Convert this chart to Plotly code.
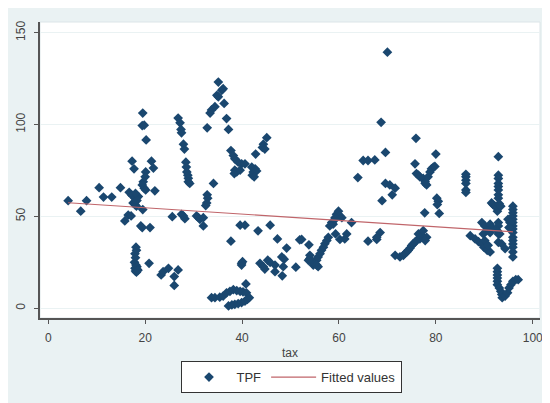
import plotly.graph_objects as go

# ---- data ----
tax = [
    4.1, 6.7, 7.9, 10.5, 11.4, 13.1, 14.9, 15.8,
    16.5, 17.1, 16.7, 17.3, 17.9, 18.6, 17.5, 17.9, 18.2, 19.5, 17.3, 17.7,
    19.5, 19.4, 19.8, 20.2, 21.3, 21.7, 20.1, 20.0, 19.6, 19.4, 19.8, 20.1, 22.0,
    19.1, 19.4, 21.0, 18.1, 18.2, 17.9, 17.8, 18.1, 18.3, 17.9, 18.4, 18.0, 18.2,
    18.5, 20.8, 18.0, 18.3, 18.0,
    23.3, 23.7, 24.8, 26.0, 26.8, 26.0, 25.6,
    26.8, 27.2, 27.4, 27.5, 27.9, 28.1, 28.4, 28.5, 28.6, 28.8, 28.9, 28.9, 29.2,
    27.5, 27.9, 28.2, 30.6, 31.0, 31.3, 32.0, 32.0,
    32.8, 33.4, 33.7, 34.4, 35.1, 36.1, 35.8, 34.8, 35.1, 36.3, 36.8, 37.2,
    34.1, 32.8, 32.9, 32.7, 32.5,
    37.7, 38.2, 38.5, 39.2, 39.9, 40.6, 38.5, 38.9, 38.4, 39.6, 42.0, 42.7, 42.3,
    43.0, 42.1, 42.5, 45.1, 44.4, 44.2, 44.7, 42.8,
    39.6, 40.6, 43.3, 45.8, 37.7, 39.9, 39.9, 40.1,
    43.7, 44.4, 44.7, 45.3, 45.8, 46.8, 48.3,
    47.3, 49.2, 48.2, 48.7, 46.8, 48.5, 51.1, 51.9,
    33.7, 34.4, 35.4, 36.1, 36.8, 37.5, 38.2, 38.9, 39.6, 40.2, 40.9,
    37.2, 37.9, 38.5, 39.2, 39.9, 40.6, 41.1, 41.5, 40.8,
    52.3, 53.8,
    57.8, 57.5, 57.1, 56.8, 56.4, 56.1, 55.7, 55.4, 55.0, 54.7, 54.4, 54.0, 54.0,
    53.7, 55.4, 55.7,
    59.9, 59.5, 60.2, 60.6, 59.2, 58.5, 58.1, 58.8, 59.2, 62.6, 59.3, 60.2, 61.6, 61.2,
    70.0, 68.7, 69.6, 65.0, 66.0, 67.4, 63.9, 69.6, 70.5, 71.6, 71.0, 68.9,
    66.0, 67.8, 68.5, 67.8,
    71.6, 72.6, 73.3, 73.6, 74.0, 74.3, 74.7, 75.0, 75.3, 75.7, 76.0, 76.7, 77.1,
    76.4, 77.4, 78.1, 77.8, 77.7,
    75.9, 80.0, 75.7, 76.0, 76.4, 76.7, 77.4, 77.8, 78.1, 77.8, 78.4, 78.8, 79.1,
    79.5, 79.8, 80.2, 80.5, 80.3, 80.7,
    86.2, 86.2, 86.2, 86.2, 86.2, 86.2,
    92.9, 92.9, 92.9, 92.9, 92.9, 92.9, 92.9, 92.9,
    91.5, 91.8, 92.2, 92.6, 92.7, 93.1, 93.4,
    95.9, 95.9, 95.9, 95.9, 95.9, 95.9, 95.9, 95.9, 95.9, 95.9, 95.9, 95.9, 95.9,
    95.9, 95.9,
    94.9, 95.3, 95.1,
    92.9, 92.9, 92.7, 92.9, 92.9, 93.6, 93.2, 94.3,
    89.5, 90.1, 91.2, 91.5, 90.5, 89.8, 91.2,
    87.1, 88.1, 88.8, 89.5, 89.9, 90.6, 91.2, 90.1, 90.8,
    92.7, 92.7, 92.7, 92.7, 92.7, 92.7, 93.1, 93.4, 93.6, 93.7, 94.3, 94.8, 95.1,
    95.5, 95.9, 96.5, 97.0,
]
tpf = [
    58.5, 52.8, 58.5, 65.6, 60.5, 60.5, 65.6, 47.5,
    50.7, 50.2, 63.1, 61.4, 59.9, 60.8, 57.3, 56.4, 55.5, 53.7, 80.0, 75.9,
    106.2, 99.4, 99.6, 91.6, 80.0, 76.3, 74.2, 71.5, 68.8, 67.1, 65.3, 64.4, 63.9,
    44.8, 43.9, 43.9, 33.2, 31.5, 29.7, 25.0, 23.5, 22.6, 21.7, 21.0, 20.2, 19.6,
    20.6, 24.4, 27.5, 58.6, 62.5,
    18.1, 19.9, 21.7, 17.2, 20.8, 12.4, 49.8,
    103.5, 100.9, 97.3, 95.5, 89.3, 86.6, 79.5, 76.8, 74.2, 72.4, 70.7, 68.8, 67.9,
    51.1, 50.2, 48.7, 50.2, 49.3, 48.4, 49.3, 44.8,
    98.2, 106.2, 107.9, 109.7, 123.1, 119.5, 118.6, 115.9, 115.1, 111.5, 103.2, 97.3,
    67.9, 61.7, 59.9, 57.3, 55.9,
    85.8, 83.1, 81.3, 79.5, 78.6, 78.6, 75.1, 74.2, 73.3, 75.1, 76.8, 75.9, 74.2,
    74.7, 72.4, 71.5, 92.8, 89.3, 87.5, 86.6, 83.9,
    45.2, 45.2, 42.1, 45.2, 36.5, 24.4, 23.5, 25.3,
    24.4, 22.6, 21.3, 26.1, 24.9, 19.9, 17.6,
    37.7, 32.7, 27.9, 26.7, 23.5, 22.6, 22.3, 37.2,
    5.7, 5.7, 6.0, 6.6, 8.4, 9.2, 10.1, 9.6, 9.2, 8.9, 8.4,
    1.2, 1.8, 2.1, 2.5, 3.0, 3.9, 4.8, 5.7, 13.2,
    37.4, 34.5,
    38.6, 36.8, 35.1, 33.2, 31.5, 29.7, 27.9, 26.1, 24.4, 23.5, 25.3, 27.1, 28.8,
    26.1, 23.5, 22.6,
    52.8, 51.1, 50.2, 49.3, 49.3, 46.6, 44.8, 45.7, 48.4, 46.6, 40.4, 37.4, 40.4, 37.7,
    139.4, 101.2, 84.8, 80.4, 80.4, 80.7, 71.1, 67.9, 67.1, 65.3, 61.7, 58.5,
    36.5, 37.4, 41.2, 38.6,
    28.8, 27.9, 28.8, 29.7, 30.6, 31.5, 32.7, 34.1, 35.0, 35.9, 36.8, 37.7, 39.5,
    40.4, 42.2, 38.6, 36.8, 51.9,
    92.5, 83.9, 78.6, 73.3, 72.4, 71.5, 70.6, 68.8, 67.1, 67.9, 71.5, 74.2, 75.9,
    76.8, 77.2, 59.9, 58.2, 56.4, 51.6,
    72.9, 71.5, 69.7, 67.9, 64.4, 63.0,
    82.5, 72.4, 70.6, 67.9, 66.2, 64.4, 61.7, 59.9,
    57.3, 56.4, 55.5, 54.6, 52.8, 56.9, 55.5,
    55.5, 53.7, 51.9, 50.2, 48.4, 46.6, 44.8, 43.1, 41.2, 38.6, 36.8, 35.0, 33.2,
    30.6, 27.9,
    48.4, 46.6, 43.9,
    46.6, 44.8, 42.2, 40.4, 35.9, 35.0, 40.4, 32.4,
    46.6, 44.8, 45.7, 43.9, 42.2, 40.4, 41.2,
    39.5, 37.7, 36.3, 35.0, 33.2, 31.5, 30.6, 36.8, 34.2,
    21.7, 19.9, 18.1, 16.4, 14.6, 12.8, 11.0, 9.2, 7.5, 5.7, 6.6, 8.4, 11.0,
    12.8, 14.6, 15.5, 15.5,
]
fit_x = [4.1, 95.9]
fit_y = [57.4, 41.6]
x_ticks = [0, 20, 40, 60, 80, 100]
y_ticks = [0, 50, 100, 150]

FONT = "Liberation Sans, Arial, sans-serif"
GRAY_BG = "#EAF2F3"

fig = go.Figure()
fig.add_trace(go.Scatter(
    x=tax, y=tpf, mode="markers", name="TPF",
    marker=dict(symbol="diamond", size=7.5, color="#1A476F", line=dict(width=0)),
))
fig.add_trace(go.Scatter(
    x=fit_x, y=fit_y, mode="lines", name="Fitted values",
    line=dict(color="#C0656A", width=1.2),
))

# page body has an 8px margin; figure sits at (8,8) in the window.
OFF = 8
W, H = 550 - OFF, 403 - OFF
# plot area in window pixels: x 40..540, y 22..324
L = 40 - OFF
T = 22 - OFF
R = W - (540 - OFF)
B = H - (324 - OFF)
pw, ph = W - L - R, H - T - B

def win_y(p):
    return ((324 - OFF) - (p - OFF)) / ph

shapes = [
    dict(type="rect", xref="paper", yref="paper", layer="below",
         x0=0, x1=1, y0=0, y1=1,
         fillcolor="rgba(0,0,0,0)", line=dict(width=1, color="#DCE5E8")),
]

fig.update_layout(
    width=W, height=H,
    margin=dict(l=L, r=R, t=T, b=B, pad=0),
    paper_bgcolor=GRAY_BG,
    plot_bgcolor="white",
    font=dict(family=FONT, size=12, color="#333333"),
    shapes=shapes,
    showlegend=True,
    legend=dict(
        orientation="h", x=0.502, xanchor="center", y=win_y(368), yanchor="top",
        bgcolor="white", bordercolor="#333333", borderwidth=1,
        font=dict(family=FONT, size=13, color="#333333"),
        itemwidth=45, tracegroupgap=0,
    ),
    xaxis=dict(
        range=[-1.71, 101.5], tickvals=x_ticks, showgrid=False, zeroline=False,
        automargin=False,
        showline=True, linecolor="#555555", linewidth=1.5,
        ticks="outside", ticklen=4, tickcolor="#555555", tickwidth=1,
        ticklabelstandoff=4,
        tickfont=dict(family=FONT, size=12, color="#444444"),
        title=dict(text="tax", standoff=4, font=dict(family=FONT, size=12, color="#444444")),
    ),
    yaxis=dict(
        range=[-5.34, 155.8], tickvals=y_ticks, showgrid=True, gridcolor=GRAY_BG,
        gridwidth=1, zeroline=False, automargin=False,
        showline=True, linecolor="#555555", linewidth=1.5,
        ticks="outside", ticklen=4, tickcolor="#555555", tickwidth=1,
        tickangle=-90, ticklabelstandoff=4,
        tickfont=dict(family=FONT, size=12, color="#444444"),
    ),
)

fig.write_html("out.html")
